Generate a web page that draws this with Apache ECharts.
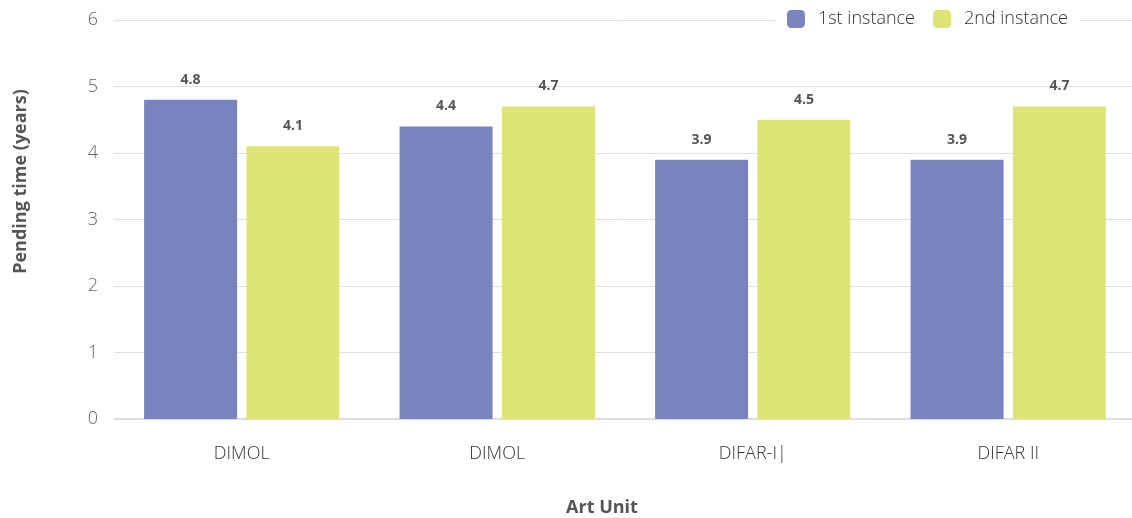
<!DOCTYPE html>
<html><head><meta charset="utf-8">
<script src="https://cdn.jsdelivr.net/npm/echarts@6/dist/echarts.min.js"></script>
<style>html,body{margin:0;padding:0;background:#fff}#c{width:1132px;height:518px}</style>
</head><body><div id="c"></div>
<script>
const categories = ['DIMOL', 'DIMOL', 'DIFAR-I|', 'DIFAR II'];
const firstInstance = [4.8, 4.4, 3.9, 3.9];
const secondInstance = [4.1, 4.7, 4.5, 4.7];
const seriesNames = ['1st instance', '2nd instance'];

const FONT = 'Open Sans';
const chart = echarts.init(document.getElementById('c'));
const labelCfg = {show: true, position: 'top', distance: 13, fontFamily: FONT, fontSize: 14, fontWeight: 'bold', color: '#555'};
chart.setOption({
  animation: false,
  textStyle: {fontFamily: FONT},
  legend: {
    top: 8, right: 52, itemWidth: 18, itemHeight: 18, itemGap: 18,
    backgroundColor: '#fff', padding: [2, 12],
    icon: 'roundRect',
    textStyle: {fontFamily: FONT, fontSize: 18, fontWeight: 300, color: '#333', padding: [0, 0, 0, 8]},
    data: seriesNames
  },
  grid: {left: 114, right: -4, top: 20, bottom: 99, outerBoundsMode: 'none', containLabel: false},
  xAxis: {
    type: 'category', data: categories,
    name: 'Art Unit', nameLocation: 'middle', nameGap: 80,
    nameTextStyle: {fontFamily: FONT, fontSize: 18, fontWeight: 'bold', color: '#555', padding: [0, 46, 0, 0]},
    axisLine: {lineStyle: {color: '#ddd', width: 2}},
    axisTick: {show: false},
    axisLabel: {margin: 26, fontFamily: FONT, fontSize: 18, fontWeight: 300, color: '#333'}
  },
  yAxis: {
    type: 'value', min: 0, max: 6, interval: 1,
    name: 'Pending time (years)', nameLocation: 'middle', nameGap: 84,
    nameTextStyle: {fontFamily: FONT, fontSize: 18, fontWeight: 'bold', color: '#555', padding: [0, 0, 0, 76]},
    axisLine: {show: false}, axisTick: {show: false},
    axisLabel: {margin: 16, fontFamily: FONT, fontSize: 18, fontWeight: 300, color: '#666'},
    splitLine: {lineStyle: {color: '#e0e0e0', width: 1}}
  },
  series: [
    {name: seriesNames[0], type: 'bar', data: firstInstance, barWidth: 93, barGap: '10%',
     itemStyle: {color: '#7984bf'}, label: labelCfg},
    {name: seriesNames[1], type: 'bar', data: secondInstance, barWidth: 93,
     itemStyle: {color: '#dee577'}, label: labelCfg}
  ]
});
</script></body></html>
